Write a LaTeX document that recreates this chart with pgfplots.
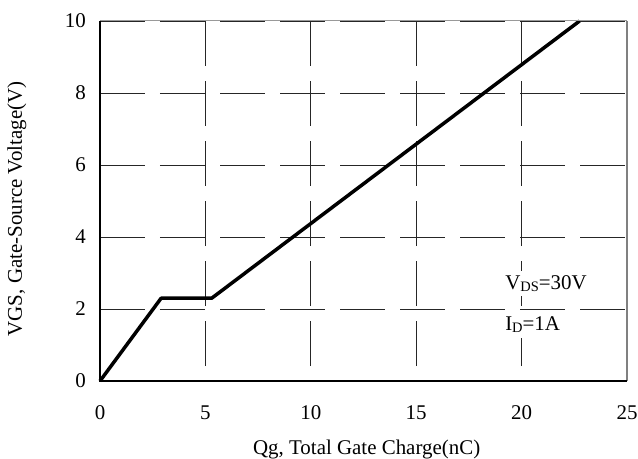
\documentclass[border=0pt]{standalone}
\usepackage{fontspec}
\setmainfont{Liberation Serif}
\usepackage{pgfplots}
\pgfplotsset{compat=1.18}

% gate charge curve: plateau at the Miller region
\pgfplotstableread{
qg   vgs
0    0
2.9  2.3
5.3  2.3
22.75 10
}\gatecharge

\newcommand{\sub}[1]{{\fontsize{14.5}{14.5}\selectfont\raisebox{-1.2bp}{#1}}}

\begin{document}
\begin{tikzpicture}
\begin{axis}[
  scale only axis,
  width=527bp, height=360bp,
  xmin=0, xmax=25, ymin=0, ymax=10,
  xtick={0,5,...,25}, ytick={0,2,...,10},
  grid=major,
  major tick length=0pt,
  x grid style={black!85, line width=0.8bp, dash pattern=on 45bp off 15bp, dash phase=45bp},
  y grid style={black!85, line width=0.8bp, dash pattern=on 45bp off 15bp},
  axis line style={draw=none},
  /pgf/number format/assume math mode=true,
  tick label style={font=\fontsize{21}{25}\selectfont, inner sep=0pt},
  xticklabel style={anchor=center, yshift=-32bp},
  yticklabel style={anchor=east, xshift=-14bp},
  label style={font=\fontsize{21}{25}\selectfont},
  xlabel={Qg, Total Gate Charge(nC)},
  xlabel style={at={([yshift=-73bp]axis description cs:0.506,0)}, anchor=base},
  ylabel={VGS, Gate-Source Voltage(V)},
  ylabel style={at={([xshift=-78bp]axis description cs:0,0.478)}, anchor=base, rotate=0},
  clip=false,
]
  \addplot[black, line width=3.5bp, line join=round] table[x=qg, y=vgs] {\gatecharge};

  % frame: grey top and right, black left and bottom
  \draw[black!40, line width=1bp] (rel axis cs:0,1) -- (rel axis cs:1,1);
  \draw[black!50, line width=2bp] (rel axis cs:1,1) -- (rel axis cs:1,0);
  \draw[black, line width=1.6bp] (rel axis cs:0,1) -- (rel axis cs:0,0) -- (rel axis cs:1,0);

  \node[anchor=base west, fill=white, text width=89bp, inner xsep=2bp, inner ysep=5bp,
        font=\fontsize{21}{25}\selectfont] at (axis cs:19.12,2.53) {V\sub{DS}=30V};
  \node[anchor=base west, fill=white, text width=89bp, inner xsep=2bp, inner ysep=6bp,
        font=\fontsize{21}{25}\selectfont] at (axis cs:19.12,1.39) {I\sub{D}=1A};

  \coordinate (sw) at (rel axis cs:0,0);
  \coordinate (ne) at (rel axis cs:1,1);
\end{axis}
\pgfresetboundingbox
\path ([shift={(-100bp,-78bp)}]sw) rectangle ([shift={(11bp,21bp)}]ne);
\end{tikzpicture}
\end{document}
